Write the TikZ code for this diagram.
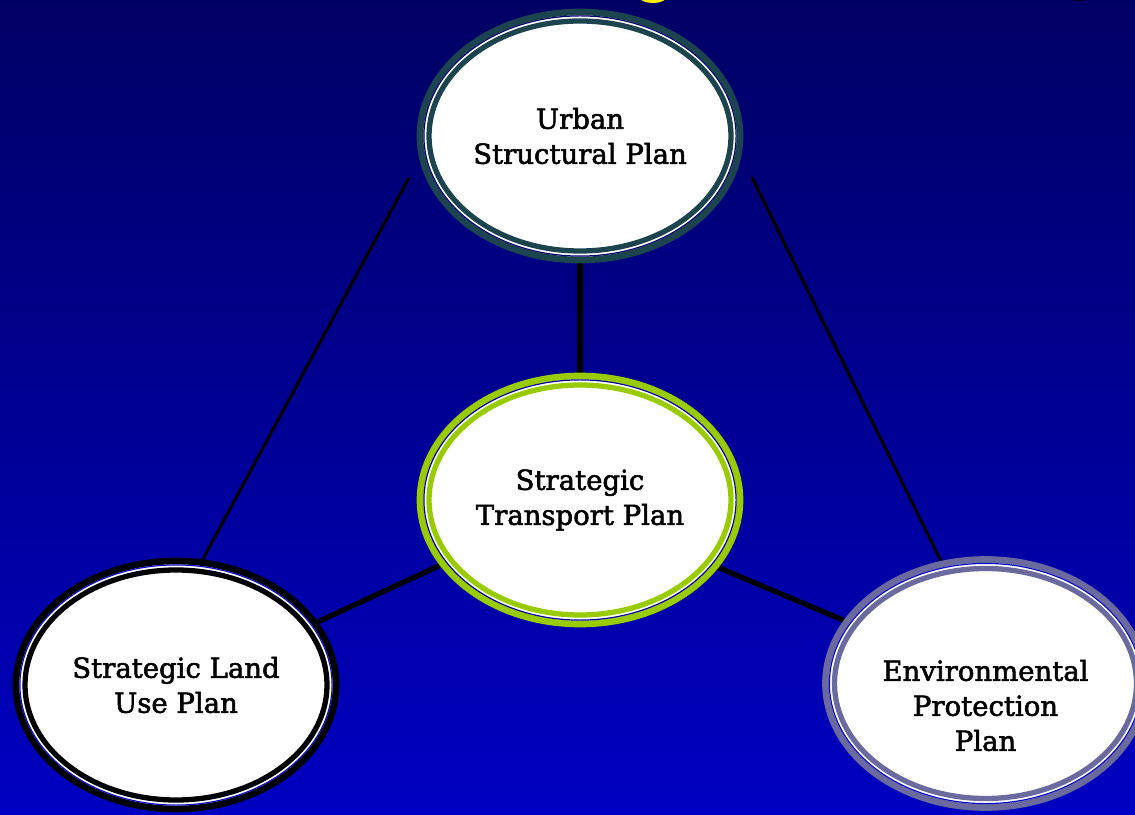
\documentclass[tikz,border=0pt]{standalone}
\usepackage{fontspec}
\setmainfont{DejaVu Serif}
\newfontfamily\planfont[FakeBold=2]{DejaVu Serif}
\usetikzlibrary{positioning,shapes.geometric,backgrounds,calc}
\definecolor{colorbgtop}     {RGB}{  0,  0,100}
\definecolor{colorbgbottom}  {RGB}{  0,  0,194}
\definecolor{colorurban}     {RGB}{ 28, 68, 78}
\definecolor{colortransport} {RGB}{153,204,  0}
\definecolor{colorlanduse}   {RGB}{  0,  0,  0}
\definecolor{colorenv}       {RGB}{106,106,158}
\definecolor{colorgapurban}  {RGB}{  0,  0,105}
\definecolor{colorgapmid}    {RGB}{  0,  0,150}
\definecolor{colorgaplow}    {RGB}{ 10, 10,200}
\definecolor{colorsun}       {RGB}{255,238,  0}

\begin{document}
\begin{tikzpicture}[
    plan/.style={ellipse, minimum width=3.2cm, minimum height=2.48cm, inner sep=0pt,
                 line width=1.9pt, fill=white, align=center, text=black,
                 font={\planfont\fontsize{7.83}{9.96}\selectfont}},
    plantext/.style={align=center, text=black, font={\planfont\fontsize{7.83}{9.96}\selectfont}},
    link/.style={black, line width=0.85pt},
    boldlink/.style={black, line width=1.5pt}
]
    \useasboundingbox (0,0) rectangle (11.35,8.14);
    \clip (0,0) rectangle (11.35,8.14);

    % Plans
    \node[plan, draw=colorurban] (urban) at (5.80,6.78) {Urban\\Structural Plan};
    \node[plan, draw=colortransport] (transport) at (5.80,3.14) {Strategic\\Transport Plan};
    \node[plan, draw=colorlanduse] (landuse) at (1.76,1.29) {Strategic Land\\Use Plan};
    \node[plan, draw=colorenv,
          label={[plantext, name=envtext, yshift=-0.22cm]center:Environmental\\Protection\\Plan}]
          (envprot) at (9.855,1.305) {};

    % Inner rings
    \foreach \nd/\cl/\gp in {urban/colorurban/colorgapurban, transport/colortransport/colorgapmid,
                             landuse/colorlanduse/colorgaplow, envprot/colorenv/colorgaplow} {
        \draw[\gp, line width=0.34pt] (\nd.center) ellipse [x radius=1.561cm, y radius=1.201cm];
        \draw[\cl, line width=1.5pt] (\nd.center) ellipse [x radius=1.51cm, y radius=1.15cm];
    }

    \begin{scope}[on background layer]
        % Backdrop
        \shade[top color=colorbgtop, bottom color=colorbgbottom] (0,0) rectangle (11.35,8.14);
        \fill[colorsun] (6.53,8.19) ellipse [x radius=0.15, y radius=0.08];
        \fill[black!85!colorbgtop] (10.79,8.19) ellipse [x radius=0.12, y radius=0.06];

        % Links between plans
        \draw[link, shorten <=0.22cm] (urban.188) -- (landuse.78);
        \draw[link, shorten <=0.24cm] (urban.353) -- (envprot.110.7);
        \draw[boldlink] (urban.south) -- (transport.north);
        \draw[boldlink] (transport.205.5) -- (landuse.24.2);
        \draw[boldlink] (transport.334.5) -- (envprot.156.8);
    \end{scope}
\end{tikzpicture}
\end{document}
